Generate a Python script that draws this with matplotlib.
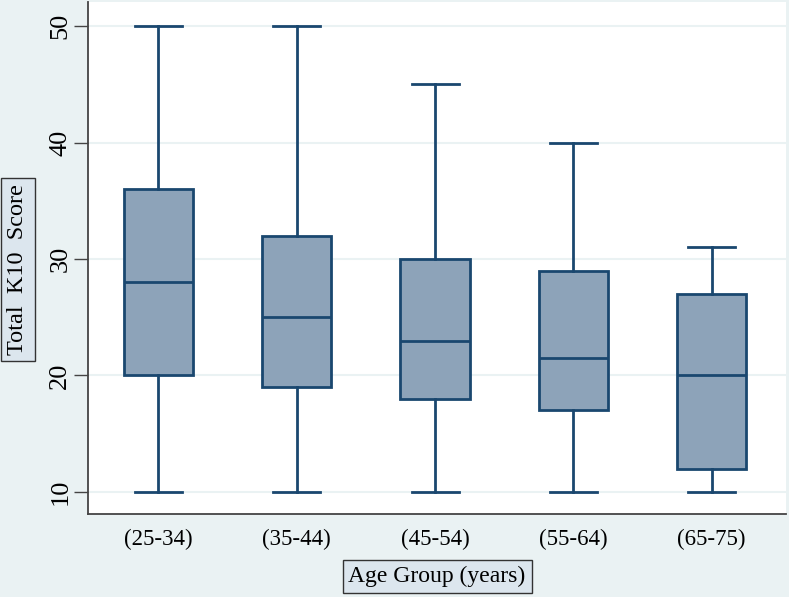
import matplotlib.pyplot as plt

# box statistics
groups = ['(25-34)', '(35-44)', '(45-54)', '(55-64)', '(65-75)']
whislo = [10, 10, 10, 10, 10]
q1 = [20, 19, 18, 17, 12]
med = [28, 25, 23, 21.5, 20]
q3 = [36, 32, 30, 29, 27]
whishi = [50, 50, 45, 40, 31]
yticks = [10, 20, 30, 40, 50]

bg = '#EAF2F3'
navy = '#1A476F'
fill = '#8DA3B9'

plt.rcParams['font.family'] = ['Liberation Serif', 'DejaVu Serif']

fig = plt.figure(figsize=(7.89, 5.97), dpi=100, facecolor=bg)
ax = fig.add_axes([0.1115, 0.139, 0.885, 0.858])

stats = []
for i in range(len(groups)):
    stats.append(dict(label=groups[i], whislo=whislo[i], q1=q1[i], med=med[i],
                      q3=q3[i], whishi=whishi[i], fliers=[]))

ax.bxp(stats, positions=range(1, len(groups) + 1), widths=0.5, patch_artist=True,
       showfliers=False,
       boxprops=dict(facecolor=fill, edgecolor=navy, linewidth=2),
       medianprops=dict(color=navy, linewidth=2),
       whiskerprops=dict(color=navy, linewidth=2),
       capprops=dict(color=navy, linewidth=2),
       capwidths=0.34)

ax.set_xlim(0.49, 5.54)
ax.set_ylim(8.1, 52.1)
ax.set_yticks(yticks)
ax.set_yticklabels([str(t) for t in yticks], rotation=90, va='center', fontsize=19)
ax.tick_params(axis='x', length=0, labelsize=16.5, pad=11)
ax.tick_params(axis='y', length=10, width=1, color='#444444', pad=2)
ax.yaxis.grid(True, color=bg, linewidth=1.5)
ax.set_axisbelow(True)

for s in ['top', 'right']:
    ax.spines[s].set_visible(False)
for s in ['left', 'bottom']:
    ax.spines[s].set_color('#444444')
    ax.spines[s].set_linewidth(1.3)

box = dict(boxstyle='square,pad=0.25', facecolor='#DCE6EE', edgecolor='#333333', linewidth=1)
ax.set_ylabel('Total  K10  Score', fontsize=17.5, labelpad=15, bbox=box)
ax.yaxis.label.set_y(0.477)
ax.set_xlabel('Age Group (years)', fontsize=17, labelpad=11, bbox=box)

plt.savefig('out.png', dpi=100, facecolor=bg)
